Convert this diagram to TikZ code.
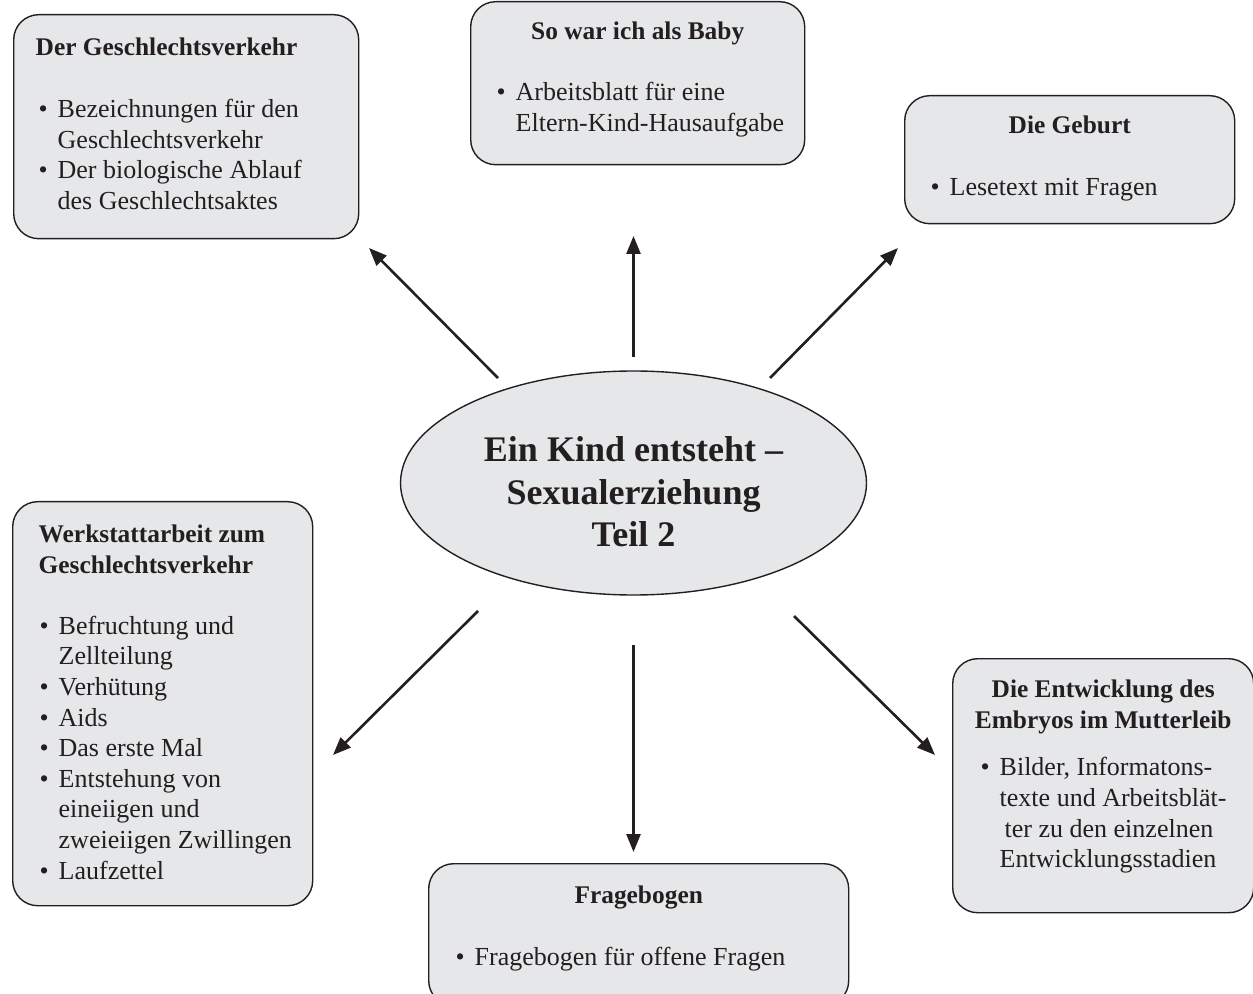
\documentclass[tikz,border=0pt]{standalone}
\usepackage{fontspec}
\setmainfont{Liberation Serif}
\usetikzlibrary{shapes.geometric,arrows.meta}
\definecolor{boxfill}{HTML}{E6E7E8}
\definecolor{ink}{HTML}{231F20}
\newcommand{\bodyfont}{\fontsize{13}{15.3}\selectfont}
\newcommand{\titlefont}{\fontsize{12.7}{15.3}\selectfont\bfseries}
\newcommand{\boxtext}[3]{\parbox[t][#2][t]{#1}{\setlength{\parindent}{0pt}\setlength{\parskip}{0pt}\bodyfont\rightskip=0pt plus 1fil\relax #3}}
\newcommand{\lefttitle}[3]{{\titlefont\leftskip=#1\relax\rule{0pt}{#2}#3\par}}
\newcommand{\centertitle}[2]{{\titlefont\leftskip=0pt plus 1fil\rightskip=0pt plus 1fil\parfillskip=0pt\relax\rule{0pt}{#1}#2\par}}
\newcommand{\bitem}[2]{{\leftskip=#1\relax\hangindent=9.5pt\hangafter=1\noindent\makebox[9.5pt][l]{\textbullet}#2\par}}
\tikzset{
  infobox/.style={draw=ink, fill=boxfill, line width=0.7pt, rounded corners=12.5pt, inner sep=0pt, anchor=north west, text=ink},
  hubnode/.style={ellipse, draw=ink, fill=boxfill, line width=0.7pt, minimum width=233pt, minimum height=112pt, inner sep=0pt, text=ink},
  arr/.style={draw=ink, line width=1.3pt, -{Triangle[length=9pt,width=7pt]}}
}
\begin{document}
\begin{tikzpicture}[x=0.5pt,y=-0.5pt]
\useasboundingbox (0,0) rectangle (1253,994);

% central ellipse
\node[hubnode] (hub) at (633.5,483) {\parbox[t]{160pt}{\centering\fontsize{18}{21.25}\selectfont\bfseries\rule{0pt}{21.5pt}Ein Kind entsteht –\\Sexualerziehung\\Teil 2}};

% boxes
\node[infobox] (b1) at (13,14) {\boxtext{172.5pt}{112pt}{%
  \lefttitle{11pt}{20.5pt}{Der Geschlechtsverkehr}
  \vspace{15.7pt}
  \bitem{12.5pt}{Bezeichnungen für den\\Geschlechtsverkehr}
  \bitem{12.5pt}{Der biologische Ablauf\\des Geschlechtsaktes}}};

\node[infobox] (b2) at (470,1) {\boxtext{167pt}{81.5pt}{%
  \centertitle{19pt}{So war ich als Baby}
  \vspace{15.2pt}
  \bitem{13pt}{Arbeitsblatt für eine\\Eltern-Kind-Hausaufgabe}}};

\node[infobox] (b3) at (904,95) {\boxtext{165pt}{64pt}{%
  \centertitle{19pt}{Die Geburt}
  \vspace{15.7pt}
  \bitem{13pt}{Lesetext mit Fragen}}};

\node[infobox] (b4) at (12,501) {\boxtext{150pt}{202pt}{%
  \lefttitle{13pt}{20.5pt}{Werkstattarbeit zum\\Geschlechtsverkehr}
  \vspace{15.2pt}
  \bitem{13.5pt}{Befruchtung und\\Zellteilung}
  \bitem{13.5pt}{Verhütung}
  \bitem{13.5pt}{Aids}
  \bitem{13.5pt}{Das erste Mal}
  \bitem{13.5pt}{Entstehung von\\eineiigen und\\zweieiigen Zwillingen}
  \bitem{13.5pt}{Laufzettel}}};

\node[infobox] (b5) at (428,863) {\boxtext{210pt}{71pt}{%
  \centertitle{20pt}{Fragebogen}
  \vspace{15.7pt}
  \bitem{13.5pt}{Fragebogen für offene Fragen}}};

\node[infobox] (b6) at (952,658) {\boxtext{150.5pt}{127pt}{%
  \centertitle{19.5pt}{Die Entwicklung des\break Embryos im Mutterleib}
  \vspace{8.5pt}
  \bitem{14pt}{Bilder, Informatons-\\texte und Arbeitsblät-\\\hspace*{2.5pt}ter zu den einzelnen\\Entwicklungsstadien}}};

% arrow end points
\coordinate (s1) at (498,378);   \coordinate (e1) at (369,248);
\coordinate (s2) at (633.5,357); \coordinate (e2) at (633.5,236);
\coordinate (s3) at (770,378);   \coordinate (e3) at (898,248);
\coordinate (s4) at (478,611);   \coordinate (e4) at (333,755);
\coordinate (s5) at (633.5,645); \coordinate (e5) at (633.5,852);
\coordinate (s6) at (794,616);   \coordinate (e6) at (935,755);

\draw[arr] (s1) -- (e1);
\draw[arr] (s2) -- (e2);
\draw[arr] (s3) -- (e3);
\draw[arr] (s4) -- (e4);
\draw[arr] (s5) -- (e5);
\draw[arr] (s6) -- (e6);
\end{tikzpicture}
\end{document}
